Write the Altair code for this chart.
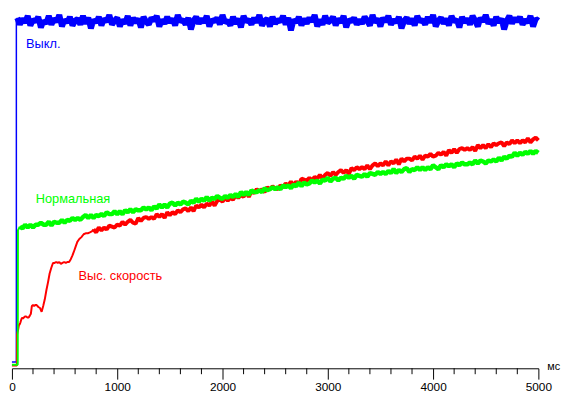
import altair as alt
import pandas as pd

W, H = 535, 362
FONT = "Liberation Sans"

# x: time, ms ; u: signal level in arbitrary units (0..372), no y axis in the original
blue_t_start = [0, 42, 42]
blue_u_start = [6.5, 6.5, 362]
blue_grid_t = list(range(50, 5001, 25))
blue_u = [
    366, 359, 365, 361, 368, 358, 364, 362, 367, 356,
    363, 360, 368, 359, 365, 362, 369, 357, 364, 361,
    367, 358, 363, 365, 359, 368, 360, 366, 355, 364,
    361, 367, 358, 365, 362, 369, 359, 363, 366, 357,
    364, 360, 368, 358, 366, 361, 365, 356, 367, 362,
    359, 366, 363, 368, 357, 364, 360, 367, 361, 365,
    358, 369, 362, 364, 359, 366, 354, 363, 367, 360,
    365, 361, 368, 357, 364, 362, 366, 359, 369, 361,
    363, 358, 367, 360, 365, 356, 368, 362, 364, 359,
    366, 361, 369, 358, 363, 365, 357, 367, 360, 364,
    362, 368, 359, 366, 353, 364, 361, 367, 358, 365,
    360, 366, 362, 369, 357, 364, 359, 368, 361, 363,
    367, 358, 365, 361, 368, 356, 364, 362, 366, 359,
    364, 360, 367, 363, 358, 369, 361, 365, 357, 366,
    362, 368, 359, 364, 361, 367, 355, 363, 366, 360,
    365, 358, 368, 362, 364, 359, 367, 361, 369, 357,
    363, 366, 360, 365, 358, 368, 362, 364, 356, 367,
    361, 365, 359, 368, 363, 357, 366, 362, 369, 360,
    364, 358, 367, 361, 365, 354, 363, 368, 360, 366,
    362, 367, 359, 364, 361, 368, 357, 365, 363,
]

green_t_start = [0, 55, 57]
green_u_start = [3.7, 3.7, 144]
green_grid_t = list(range(75, 5001, 25))
green_u = [
    148, 146, 150, 147, 150, 147, 150, 150, 152, 150,
    150, 153, 149, 153, 152, 152, 155, 152, 155, 154,
    157, 155, 157, 155, 158, 160, 157, 160, 157, 160,
    159, 161, 159, 163, 161, 161, 164, 161, 164, 161,
    165, 163, 166, 163, 166, 165, 165, 168, 166, 168,
    165, 169, 167, 171, 168, 171, 168, 172, 173, 170,
    173, 171, 174, 173, 171, 175, 173, 177, 174, 177,
    175, 179, 175, 178, 177, 180, 178, 177, 180, 178,
    181, 179, 182, 179, 184, 181, 184, 181, 186, 184,
    184, 186, 184, 188, 186, 187, 189, 187, 189, 187,
    191, 189, 191, 188, 192, 190, 194, 190, 194, 192,
    193, 196, 194, 196, 193, 197, 196, 199, 195, 198,
    199, 196, 199, 198, 201, 199, 201, 198, 202, 201,
    200, 203, 200, 204, 203, 202, 205, 203, 205, 203,
    206, 204, 208, 204, 207, 205, 208, 209, 205, 208,
    207, 210, 207, 210, 207, 210, 208, 212, 210, 208,
    212, 210, 213, 211, 213, 210, 214, 212, 215, 213,
    213, 215, 213, 217, 214, 217, 216, 214, 217, 216,
    218, 216, 220, 217, 221, 219, 222, 221, 225, 222,
    225, 223, 226, 224, 227, 224, 227, 225,
]

red_t_early = [
    0, 47, 48, 51, 58, 66, 74, 81, 89, 97,
    105, 113, 124, 135, 147, 159, 170, 180, 189, 200,
    210, 222, 235, 251, 266, 282, 297, 312, 328, 343,
    358, 374, 390, 405, 420, 435, 450, 465, 480, 496,
    512, 527, 543, 559, 575, 589, 605, 621, 640, 660,
    681, 700, 720, 740, 759,
]
red_u_early = [
    3, 3, 35, 37, 40, 45, 46, 48, 51, 53,
    52, 53, 54, 54, 53, 53, 55, 57, 65, 66,
    65, 66, 66, 64, 63, 59, 65, 72, 82, 90,
    99, 105, 110, 110, 111, 110, 111, 109, 110, 111,
    110, 111, 111, 114, 118, 122, 127, 132, 135, 137,
    140, 141, 141, 142, 143,
]
red_grid_t = list(range(775, 5001, 25))
red_u = [
    145, 142, 147, 144, 147, 145, 149, 148, 147, 150,
    149, 153, 150, 153, 155, 152, 151, 157, 154, 157,
    158, 156, 158, 156, 161, 158, 161, 157, 163, 160,
    163, 161, 165, 163, 166, 167, 164, 168, 164, 170,
    168, 171, 168, 172, 170, 174, 170, 175, 176, 174,
    178, 175, 178, 176, 181, 178, 181, 179, 184, 179,
    185, 183, 187, 185, 187, 184, 189, 187, 190, 188,
    187, 191, 189, 193, 191, 195, 191, 195, 192, 198,
    197, 196, 199, 196, 200, 198, 202, 198, 202, 204,
    201, 205, 202, 205, 207, 204, 207, 203, 209, 207,
    210, 208, 210, 208, 212, 208, 212, 214, 211, 214,
    212, 216, 212, 216, 214, 218, 213, 219, 216, 219,
    219, 217, 221, 219, 222, 218, 222, 221, 224, 221,
    222, 225, 223, 226, 222, 228, 225, 229, 225, 229,
    230, 228, 230, 228, 231, 227, 233, 230, 233, 230,
    234, 231, 235, 233, 235, 236, 232, 236, 234, 238,
    235, 238, 235, 238, 236, 240, 236, 239, 241, 238,
]

label_text = ["Выкл.", "Нормальная", "Выс. скорость"]
label_t = [134, 226, 633]
label_u = [335, 173, 92]
colors = ["#0000ff", "#00ff00", "#ff0000"]

major_ticks = [0, 1000, 2000, 3000, 4000, 5000]
minor_ticks = [t for t in range(200, 5000, 200) if t % 1000 != 0]

assert len(blue_u) == len(blue_grid_t)
assert len(green_u) == len(green_grid_t)
assert len(red_u) == len(red_grid_t)
assert len(red_t_early) == len(red_u_early)


def frame(ts, us):
    return pd.DataFrame({"t": ts, "u": us, "i": list(range(len(ts)))})


# thin start segments (jump) and thick noisy body of each trace
blue_start_df = frame(blue_t_start + blue_grid_t[:1], blue_u_start + blue_u[:1])
blue_df = frame(blue_grid_t, blue_u)
green_start_df = frame(green_t_start + green_grid_t[:1], green_u_start + green_u[:1])
green_df = frame(green_grid_t, green_u)
red_start_df = frame(red_t_early + red_grid_t[:1], red_u_early + red_u[:1])
red_df = frame(red_grid_t, red_u)

x_enc = alt.X(
    "t:Q",
    scale=alt.Scale(domain=[0, 5000], nice=False, zero=False),
    axis=alt.Axis(
        values=major_ticks, title=None, grid=False, tickSize=11, labelPadding=3,
        labelFontSize=12, labelFont=FONT, labelColor="black", labelFlush=False,
        domainColor="black", tickColor="black", domainWidth=1, tickWidth=1,
        format="d", labelOverlap=False,
    ),
)
y_enc = alt.Y("u:Q", scale=alt.Scale(domain=[0, 372], nice=False, zero=False), axis=None)


def line(df, color, width):
    return alt.Chart(df).mark_line(color=color, strokeWidth=width, strokeJoin="bevel").encode(
        x=x_enc, y=y_enc, order=alt.Order("i:Q")
    )


minor = alt.Chart(pd.DataFrame({"t": minor_ticks})).mark_rule(color="black", strokeWidth=1).encode(
    x=x_enc, y=alt.value(H), y2=alt.value(H + 6)
)

labels_df = pd.DataFrame({"t": label_t, "u": label_u, "txt": label_text, "c": colors})
labels = alt.Chart(labels_df).mark_text(
    align="left", baseline="alphabetic", fontSize=13, font=FONT
).encode(x=x_enc, y=y_enc, text="txt:N", color=alt.Color("c:N", scale=None))

unit = alt.Chart(pd.DataFrame({"t": [5000], "txt": ["мс"]})).mark_text(
    align="left", baseline="alphabetic", fontSize=11, font=FONT, dx=9, color="black"
).encode(x=x_enc, y=alt.value(H + 2), text="txt:N")

chart = alt.layer(
    minor,
    line(blue_start_df, "#0000ff", 1.5),
    line(blue_df, "#0000ff", 6),
    line(red_start_df, "#ff0000", 2),
    line(red_df, "#ff0000", 4),
    line(green_start_df, "#00ff00", 2),
    line(green_df, "#00ff00", 4.5),
    labels,
    unit,
).properties(width=W, height=H, padding=0).configure_view(strokeWidth=0)

chart.save("out.html", embed_options={"renderer": "svg", "actions": False})
